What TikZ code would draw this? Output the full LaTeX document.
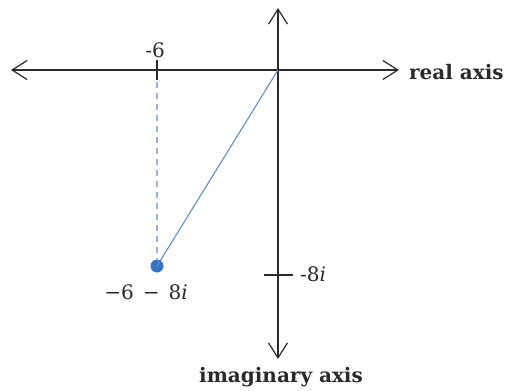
\documentclass[tikz,border=0pt]{standalone}
\usepackage{fontspec}
\setmainfont{DejaVu Serif}
\usetikzlibrary{arrows.meta}
\definecolor{ptblue}{HTML}{3A72C4}
\definecolor{lnblue}{HTML}{5A8ED0}
\definecolor{dshblue}{HTML}{9AB4D8}
\definecolor{axgray}{HTML}{2A2A2A}
\begin{document}
\begin{tikzpicture}[x=1pt,y=-1pt,
  axis/.style={draw=axgray,line width=1.5pt,{Straight Barb[length=15pt,width=19pt,line width=1.2pt]}-{Straight Barb[length=15pt,width=19pt,line width=1.2pt]}},
  lbl/.style={font=\fontsize{20}{24}\selectfont,text=axgray,inner sep=1pt},
  big/.style={font=\fontsize{20}{24}\selectfont\bfseries,text=axgray,inner sep=1pt},
  tickl/.style={draw=axgray,line width=1.3pt}]
\useasboundingbox (0,0) rectangle (509,391);
\coordinate (L) at (11,70);
\coordinate (R) at (399,70);
\coordinate (T) at (278,8);
\coordinate (B) at (278,359);
\coordinate (O) at (278,70);
\coordinate (t6a) at (157,60);
\coordinate (t6b) at (157,80);
\coordinate (d6) at (157,82);
\coordinate (t8a) at (264,275);
\coordinate (t8b) at (293,275);
\draw[axis] (L) -- (R);
\draw[axis] (B) -- (T);
\draw[tickl] (t6a) -- (t6b);
\draw[tickl] (t8a) -- (t8b);
\node[circle,fill=ptblue,inner sep=0pt,minimum size=13pt] (P) at (157,266) {};
\draw[dshblue,line width=1.6pt,dash pattern=on 6pt off 5pt] (d6) -- (P.north);
\draw[lnblue,line width=1.1pt] (P.center) -- (O);
\node[big,anchor=west] (ra) at (408,72) {real axis};
\node[big] (ia) at (281,377) {imaginary axis};
\node[lbl] (m6) at (155,50) {-6};
\node[lbl,anchor=west] (m8) at (299,274) {-8\textit{i}};
\node[lbl] (z) at (146,292) {−6\hspace{9pt}−\hspace{9pt}8\textit{i}};
\end{tikzpicture}
\end{document}
